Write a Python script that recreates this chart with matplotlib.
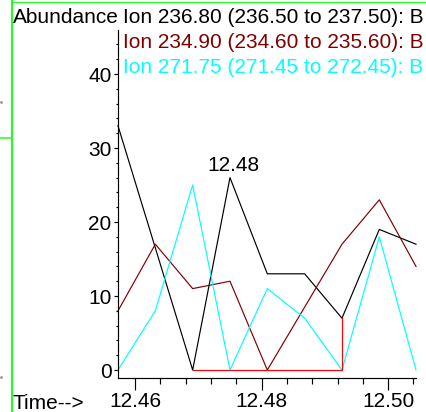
import matplotlib
matplotlib.use('Agg')
import matplotlib.pyplot as plt
from matplotlib.ticker import MultipleLocator, FixedLocator
from matplotlib.lines import Line2D

plt.rcParams['font.family'] = ['Liberation Sans', 'DejaVu Sans']
plt.rcParams['font.size'] = 15

# scan times (min) and abundances
times = [12.4573, 12.4632, 12.4691, 12.4750, 12.4809, 12.4868, 12.4927, 12.4986, 12.5044]
ion_236 = [33, 16.5, 0, 26, 13, 13, 7, 19, 17]
ion_234 = [8, 17, 11, 12, 0, 8.5, 17, 23, 14]
ion_271 = [0, 8, 25, 0, 11, 7, 0, 18, 0]

# integration baseline of the 236.80 peak (scan indices)
base_start, base_end = 2, 6
peak_index = 3
peak_label = '12.48'

legend_lines = [
    ('Ion 236.80 (236.50 to 237.50): B', '#000000'),
    ('Ion 234.90 (234.60 to 235.60): B', '#800000'),
    ('Ion 271.75 (271.45 to 272.45): B', '#00ffff'),
]

xticks = [12.46, 12.48, 12.50]
xtick_labels = ['12.46', '12.48', '12.50']
yticks = [0, 10, 20, 30, 40]

W, H = 426, 412
fig = plt.figure(figsize=(W / 100, H / 100), dpi=100)
ax = fig.add_axes([118 / W, (H - 377.7) / H, (416 - 118) / W, (377.7 - 30) / H])

lw = 0.85
ax.plot(times, ion_236, color='#000000', lw=lw, clip_on=False)
ax.plot(times, ion_234, color='#800000', lw=lw, clip_on=False)
ax.plot(times, ion_271, color='#00ffff', lw=lw, clip_on=False)

bx = [times[base_start], times[base_start], times[base_end], times[base_end]]
by = [ion_236[base_start], 0, 0, ion_236[base_end]]
ax.plot(bx, by, color='#ff0000', lw=lw, clip_on=False)

ax.annotate(peak_label, xy=(times[peak_index], ion_236[peak_index]),
            xytext=(3, 6.5), textcoords='offset pixels',
            ha='center', va='baseline', fontsize=15)

ax.set_xlim(times[0], times[-1])
ax.set_ylim(-1.04, 45.95)

ax.xaxis.set_major_locator(FixedLocator(xticks))
ax.set_xticklabels(xtick_labels)
ax.xaxis.set_minor_locator(MultipleLocator(0.004))
ax.yaxis.set_major_locator(FixedLocator(yticks))
ax.yaxis.set_minor_locator(MultipleLocator(2))

for s in ['top', 'right']:
    ax.spines[s].set_visible(False)
for s in ['left', 'bottom']:
    ax.spines[s].set_linewidth(0.85)

ax.tick_params(axis='x', which='major', length=8.6, width=0.85, pad=2, labelsize=15)
ax.tick_params(axis='x', which='minor', length=4.3, width=0.85)
ax.tick_params(axis='y', which='major', length=2.6, width=0.85, pad=2, labelsize=15)
ax.tick_params(axis='y', which='minor', length=1.3, width=0.85)


def px(x, y):
    return x / W, 1 - y / H


fig.text(*px(12.5, 23.0), 'Abundance', ha='left', va='baseline')
for i, (txt, col) in enumerate(legend_lines):
    fig.text(*px(123, 23.0 + 25.2 * i), txt, ha='left', va='baseline',
             color=col, fontsize=15)
fig.text(*px(12.3, 408.7), 'Time-->', ha='left', va='baseline')

# green window frame pieces
green = '#22ff22'
fig.add_artist(Line2D([11.8 / W, 11.8 / W], [0, 1], color=green, lw=1.5))
fig.add_artist(Line2D([12 / W, 1], [1 - 2.3 / H, 1 - 2.3 / H], color=green, lw=0.9))
fig.add_artist(Line2D([0, 11 / W], [1 - 138.3 / H, 1 - 138.3 / H], color=green, lw=1.1))
fig.add_artist(Line2D([0.5 / W], [1 - 101.7 / H], marker='s', ms=0.8, color='#888888', lw=0))
fig.add_artist(Line2D([0.5 / W], [1 - 376.7 / H], marker='s', ms=0.8, color='#888888', lw=0))

fig.savefig('out.png', dpi=100)
